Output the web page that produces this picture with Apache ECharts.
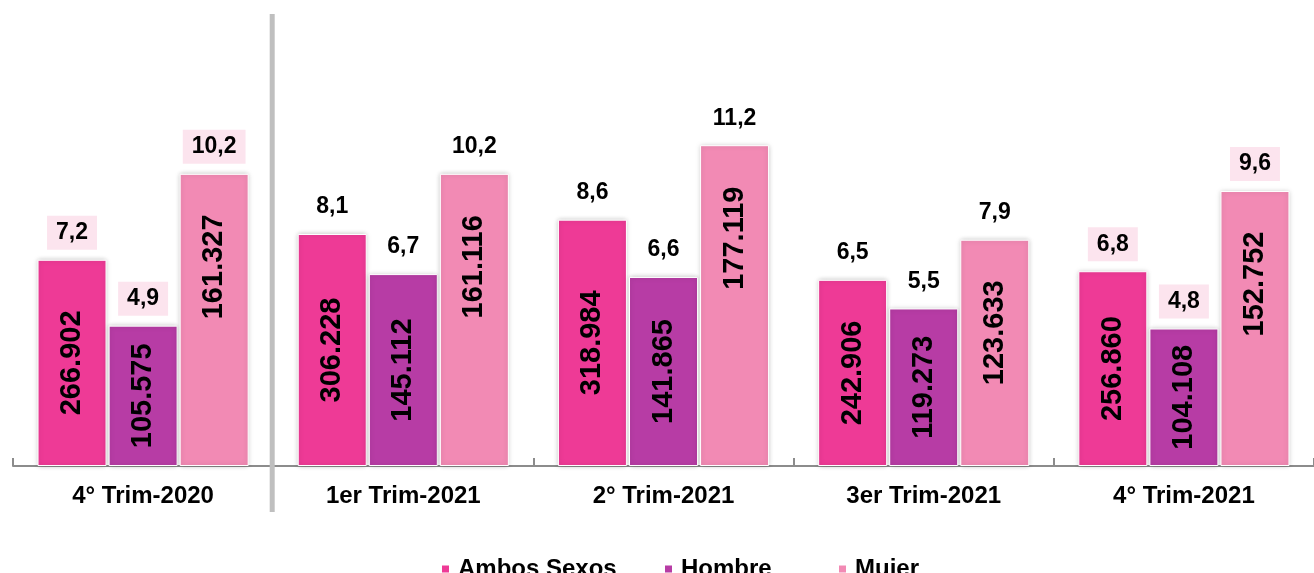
<!DOCTYPE html>
<html>
<head>
<meta charset="utf-8">
<script src="https://cdn.jsdelivr.net/npm/echarts@6/dist/echarts.min.js"></script>
<style>
  html, body { margin: 0; padding: 0; background: #fff; }
  #chart { width: 1314px; height: 573px; }
</style>
</head>
<body>
<div id="chart"></div>
<script>
// trimestres
var categorias = ['4° Trim-2020', '1er Trim-2021', '2° Trim-2021', '3er Trim-2021', '4° Trim-2021'];
var series = ['Ambos Sexos', 'Hombre', 'Mujer'];

// tasa (%) -> altura de la barra
var tasaAmbos  = [7.2, 8.1, 8.6, 6.5, 6.8];
var tasaHombre = [4.9, 6.7, 6.6, 5.5, 4.8];
var tasaMujer  = [10.2, 10.2, 11.2, 7.9, 9.6];

// personas -> etiqueta dentro de la barra
var cantAmbos  = [266902, 306228, 318984, 242906, 256860];
var cantHombre = [105575, 145112, 141865, 119273, 104108];
var cantMujer  = [161327, 161116, 177119, 123633, 152752];

// trimestres con etiqueta enmarcada
var enmarcados = [0, 4];

var colores = ['#EE3A96', '#B73CA5', '#F28AB4'];

function miles(n) {
  return String(n).replace(/\B(?=(\d{3})+(?!\d))/g, '.');
}
function coma(v) {
  return v.toFixed(1).replace('.', ',');
}

var chart = echarts.init(document.getElementById('chart'));

var tasas = [tasaAmbos, tasaHombre, tasaMujer];
var cantidades = [cantAmbos, cantHombre, cantMujer];

var fuente = '"Liberation Sans", Arial, sans-serif';
var barras = [];

// barras visibles con la cantidad girada
tasas.forEach(function (t, s) {
  barras.push({
    name: series[s],
    type: 'bar',
    xAxisIndex: 0,
    barWidth: 69,
    barGap: '3%',
    itemStyle: {
      color: colores[s],
      borderColor: '#fff',
      borderWidth: 1,
      shadowColor: 'rgba(0,0,0,0.22)',
      shadowBlur: 5
    },
    label: {
      show: true,
      position: s === 2 ? ['50%', 93] : 'inside',
      align: 'center',
      verticalAlign: 'middle',
      rotate: 90,
      color: '#000',
      fontFamily: fuente,
      fontWeight: 'bold',
      fontSize: 29,
      formatter: function (p) { return miles(cantidades[s][p.dataIndex]); }
    },
    data: t
  });
});

// barras transparentes con la tasa arriba
tasas.forEach(function (t, s) {
  barras.push({
    name: '_tasa' + s,
    type: 'bar',
    xAxisIndex: 1,
    barWidth: 69,
    barGap: '3%',
    silent: true,
    itemStyle: { color: 'transparent' },
    label: {
      show: true,
      position: 'top',
      distance: 10,
      color: '#000',
      fontFamily: fuente,
      fontWeight: 'bold',
      fontSize: 23,
      lineHeight: 20,
      padding: [7, 9],
      formatter: function (p) { return coma(p.value); }
    },
    data: t.map(function (v, i) {
      return enmarcados.indexOf(i) >= 0
        ? { value: v, label: { backgroundColor: '#FCE4EE' } }
        : v;
    })
  });
});

function leyenda(nombre, izq) {
  return {
    data: [nombre],
    left: izq,
    top: 552,
    icon: 'rect',
    itemWidth: 9,
    itemHeight: 9,
    selectedMode: false,
    textStyle: {
      color: '#000',
      fontFamily: fuente,
      fontWeight: 'bold',
      fontSize: 24,
      padding: [0, 0, 0, 3]
    }
  };
}

var option = {
  animation: false,
  grid: { left: 13, width: 1310, top: 65, bottom: 107 },
  legend: [
    leyenda('Ambos Sexos', 435),
    leyenda('Hombre', 658),
    leyenda('Mujer', 832)
  ],
  xAxis: [{
    type: 'category',
    data: categorias,
    axisLine: { lineStyle: { color: '#8C8C8C', width: 2 } },
    axisTick: { show: true, inside: true, length: 8, lineStyle: { color: '#8C8C8C', width: 2 } },
    axisLabel: {
      color: '#000',
      fontFamily: fuente,
      fontWeight: 'bold',
      fontSize: 24,
      margin: 18
    }
  }, {
    type: 'category',
    data: categorias,
    show: false
  }],
  yAxis: {
    type: 'value',
    min: 0,
    max: 14,
    show: false,
    splitLine: { show: false }
  },
  series: barras
};

chart.setOption(option);

// línea gris que separa 2020 de 2021
var x0 = chart.convertToPixel({ xAxisIndex: 0 }, categorias[0]);
var x1 = chart.convertToPixel({ xAxisIndex: 0 }, categorias[1]);
var xs = (x0 + x1) / 2 - 1;
chart.setOption({
  graphic: [{
    type: 'rect',
    shape: { x: xs - 2.5, y: 14, width: 5, height: 498 },
    style: { fill: '#BFBFBF' },
    z: 10
  }]
});
</script>
</body>
</html>
